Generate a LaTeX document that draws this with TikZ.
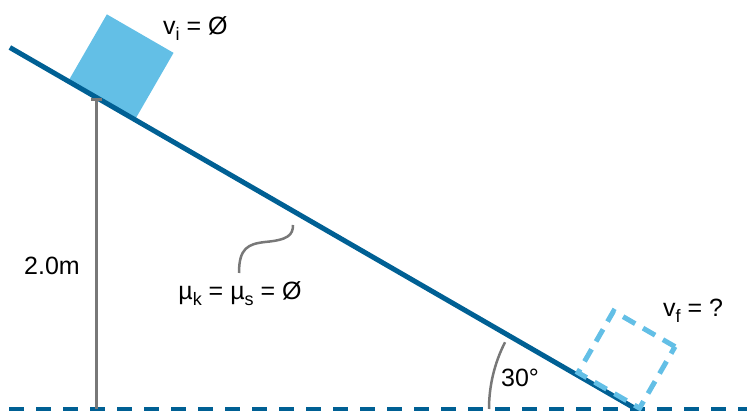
\documentclass[tikz,border=0pt]{standalone}
\usepackage{fontspec}
\setmainfont{Liberation Sans}
\usetikzlibrary{arrows.meta,calc}
\definecolor{rampblue}{RGB}{0,96,148}
\definecolor{boxblue}{RGB}{99,191,230}
\definecolor{markgray}{RGB}{120,120,120}
\newcommand{\lowidx}[1]{\raisebox{-6pt}{\fontsize{18}{20}\selectfont #1}}
\begin{document}
\begin{tikzpicture}[x=1pt,y=1pt]
	\tikzstyle{slope} = [draw=rampblue, line width=5pt];
	\tikzstyle{floor} = [draw=rampblue, line width=5pt, dash pattern=on 15pt off 12pt, dash phase=18pt];
	\tikzstyle{crate} = [fill=boxblue, minimum size=77pt, inner sep=0pt, rotate=-30, anchor=south west];
	\tikzstyle{ghost} = [draw=boxblue, line width=5pt, dash pattern=on 14pt off 9pt, minimum size=71pt, inner sep=0pt, rotate=-30, anchor=south west];
	\tikzstyle{measure} = [draw=markgray, line width=3pt];
	\tikzstyle{info} = [font={\fontsize{25}{30}\selectfont}, inner sep=0pt];

	\useasboundingbox (0,0) rectangle (747,411);

	% ground and slope
	\coordinate (gl) at (0,1.5);
	\coordinate (gr) at (747,1.5);
	\coordinate (bot) at (636,2);
	\coordinate (top) at ($(bot)+(150:723)$);
	\path (top) -- (bot)
		coordinate[pos=0.093] (start)
		coordinate[pos=0.139] (foot)
		coordinate[pos=0.902] (end);

	\node[crate] (block) at (start) {};
	\draw[floor] (gl) -- (gr);
	\draw[slope] (top) -- (bot);
	\node[ghost] (blockf) at (end) {};

	% height
	\draw[measure, {Bar[width=11pt]}-] (foot) -- (foot |- gl);
	\node[info] (h) at (52,145) {2.0m};

	% angle
	\draw[markgray, line width=2.5pt] (bot) ++(180:147) arc[start angle=180, end angle=153, radius=147];
	\node[info] (ang) at (520,33) {30°};

	% labels
	\node[info, anchor=base west] (vi) at (163,376) {v\lowidx{i} = Ø};
	\node[info, anchor=base west] (vf) at (663,94) {v\lowidx{f} = ?};
	\node[info, anchor=base] (mu) at (240,111) {µ\lowidx{k} = µ\lowidx{s} = Ø};
	\draw[markgray, line width=2.5pt] (239,138) .. controls (239,163) and (248,167) .. (265,169) .. controls (288,171) and (293,176) .. (293,186);
\end{tikzpicture}
\end{document}
